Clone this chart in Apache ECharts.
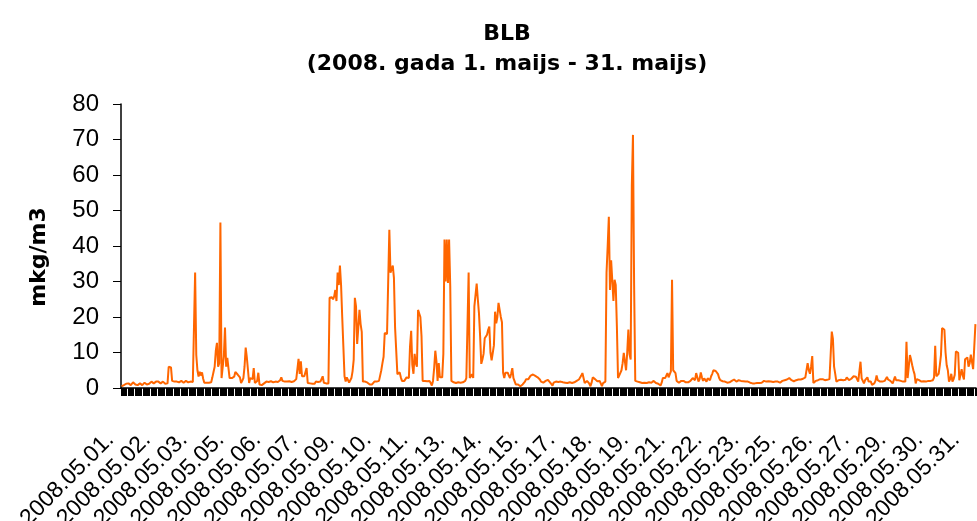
<!DOCTYPE html>
<html>
<head>
<meta charset="utf-8">
<script src="https://cdn.jsdelivr.net/npm/echarts@6/dist/echarts.min.js"></script>
<style>html,body{margin:0;padding:0;background:#fff}#c{width:977px;height:521px}</style>
</head>
<body>
<div id="c"></div>
<script>
const titleText = 'BLB';
const subtitleText = '(2008. gada 1. maijs - 31. maijs)';
const yName = 'mkg/m3';
const dayLabels = ['01','02','03','04','05','06','07','08','09','10','11','12','13','14','15','16','17','18','19','20','21','22','23','24','25','26','27','28','29','30','31'];

// hourly values per day (24 each)
const d01 = [0.5,0.6,0.8,1.0,1.2,1.5,1.3,1.0,0.8,1.2,1.6,1.4,1.0,0.7,0.8,1.1,1.3,1.0,0.8,1.2,1.5,1.3,1.0,0.9];
const d02 = [1.2,1.5,1.8,1.6,1.3,1.5,1.8,2.0,1.8,1.5,1.3,1.6,1.8,1.5,1.2,1.0,1.3,6.0,6.2,5.8,2.0,1.5,1.8,1.6];
const d03 = [1.8,1.5,1.6,1.8,2.0,1.7,1.5,1.8,2.0,1.8,1.6,1.5,1.8,1.6,1.7,1.8,32.5,9.3,5.0,3.2,4.6,3.5,4.4,2.6];
const d04 = [1.5,1.3,1.5,1.8,1.5,1.4,1.6,3.0,4.5,6.0,10.5,12.7,6.0,7.0,46.6,2.8,3.0,9.0,17.0,6.0,8.5,8.5,2.8,3.2];
const d05 = [2.8,3.0,3.2,4.5,5.0,3.8,4.0,3.0,1.4,2.0,2.8,6.0,11.4,8.6,8.8,1.4,2.8,2.8,2.5,5.6,1.4,1.5,2.0,4.3];
const d06 = [1.0,1.2,0.8,1.0,1.3,1.6,1.8,1.8,1.7,1.8,1.9,1.8,1.6,1.8,1.8,1.9,1.7,1.8,2.2,3.0,2.0,1.6,1.8,1.7];
const d07 = [1.8,2.0,1.9,1.8,1.7,1.8,1.9,2.2,2.5,2.0,8.2,4.0,7.5,3.3,3.0,3.3,3.5,5.6,1.4,1.5,1.3,1.4,1.2,0.7];
const d08 = [1.2,1.8,1.8,1.7,1.8,1.8,1.9,3.3,1.5,1.4,1.3,1.4,1.3,25.4,25.0,25.6,25.0,25.8,27.6,24.5,32.5,29.0,34.5,29.0];
const d09 = [20.0,11.7,3.3,1.8,3.0,2.5,1.5,2.0,2.8,4.7,8.0,25.4,23.0,12.4,17.0,22.0,18.0,15.8,1.8,2.0,1.8,2.0,1.5,1.0];
const d10 = [1.0,0.8,1.0,1.5,1.8,2.0,1.8,2.0,2.0,2.2,5.0,7.0,8.8,15.5,15.0,15.2,14.8,44.6,32.5,33.0,34.5,31.0,17.0,17.0];
const d11 = [3.9,4.0,4.4,3.0,2.0,2.2,2.0,2.5,3.0,2.6,2.8,11.7,16.1,6.5,4.0,9.6,7.0,6.0,22.0,21.0,20.0,14.6,2.0,2.1];
const d12 = [2.0,2.1,1.9,2.0,2.0,1.4,0.7,2.0,5.6,10.5,7.5,2.0,7.0,3.0,3.2,3.0,9.6,41.8,30.0,41.8,29.6,41.8,28.7,2.0];
const d13 = [1.5,1.6,1.5,1.4,1.5,1.6,1.5,1.5,1.9,1.6,1.5,2.0,2.8,2.8,32.5,2.8,2.5,3.9,2.8,23.0,23.5,29.4,25.0,21.0];
const d14 = [14.6,6.8,8.0,9.6,14.0,14.0,15.0,16.4,17.3,10.0,7.8,7.8,12.0,21.5,18.2,20.0,24.0,22.0,20.0,18.5,4.3,2.8,4.3,4.3];
const d15 = [4.3,3.5,2.8,4.0,5.6,2.8,2.7,1.0,1.0,1.0,0.8,0.5,0.6,1.0,1.3,1.8,2.5,2.8,2.5,3.0,3.5,4.0,3.8,3.6];
const d16 = [3.4,3.2,3.0,2.6,2.4,1.8,1.3,1.5,1.8,2.0,2.2,2.3,2.0,1.5,1.2,0.7,1.5,2.0,1.8,1.6,1.7,1.8,1.8,1.6];
const d17 = [1.6,1.5,1.5,1.4,1.4,1.5,1.6,1.5,1.4,1.5,1.6,1.8,2.0,2.2,2.4,2.8,3.5,4.2,2.8,1.4,1.6,2.0,1.8,1.2];
const d18 = [0.5,1.5,3.0,2.8,2.5,2.0,1.9,1.8,2.0,2.2,0.5,1.4,1.6,1.8,32.5,40.0,48.2,27.6,36.0,35.5,24.5,30.5,29.0,17.4];
const d19 = [2.8,3.5,3.2,5.0,7.0,9.9,9.5,5.0,10.0,16.5,9.5,8.0,56.9,71.3,29.0,2.0,1.5,1.8,1.5,1.6,1.8,1.4,1.6,1.5];
const d20 = [1.6,1.4,1.5,1.6,1.8,1.5,1.6,2.0,1.6,1.4,1.5,1.2,1.4,0.7,1.5,2.8,2.5,2.8,3.2,4.2,3.0,2.8,4.7,30.5];
const d21 = [5.0,4.6,4.2,2.0,1.6,1.5,1.8,2.0,1.8,2.0,2.0,1.6,1.3,1.6,1.8,2.0,2.2,2.8,2.5,2.2,4.2,3.0,1.8,2.5];
const d22 = [4.4,3.0,2.0,2.7,2.2,1.8,2.7,2.5,2.2,3.3,4.0,5.0,5.0,4.8,4.5,3.9,2.8,2.2,1.8,1.9,1.8,1.8,1.6,1.5];
const d23 = [1.4,1.6,1.8,2.0,1.8,2.4,2.0,1.8,2.0,2.2,2.4,2.0,1.8,1.9,1.8,1.8,1.7,1.8,1.6,1.5,1.4,1.3,1.2,1.3];
const d24 = [1.3,1.4,1.2,1.4,1.3,1.5,1.4,2.0,1.6,1.8,2.0,1.9,1.8,1.8,1.8,1.7,1.8,1.8,1.6,1.8,1.4,1.5,1.8,2.0];
const d25 = [2.0,2.2,2.4,2.4,2.6,2.8,2.8,2.2,1.8,1.9,2.0,2.2,2.2,2.4,2.3,2.4,2.5,2.6,2.8,3.0,3.5,7.0,5.0,4.0];
const d26 = [6.0,9.0,1.4,1.8,2.0,2.0,2.2,2.2,2.5,2.8,2.5,2.2,2.2,2.2,2.3,2.2,2.5,2.5,15.9,13.8,6.0,4.0,1.8,2.0];
const d27 = [2.2,2.2,2.3,2.2,2.2,2.2,2.3,3.0,2.5,2.2,2.0,2.6,2.8,3.3,3.0,3.2,2.7,1.8,1.3,7.4,2.7,2.2,1.3,2.2];
const d28 = [2.2,3.0,1.8,2.2,1.8,0.9,1.2,1.3,2.0,3.5,2.2,1.8,1.8,1.9,1.8,1.8,2.0,2.2,3.1,2.4,2.2,2.0,1.5,1.3];
const d29 = [1.8,3.2,2.2,2.2,2.2,2.2,2.0,1.8,1.8,1.9,1.8,13.0,2.8,6.0,9.3,8.0,6.4,5.0,3.9,1.3,2.5,2.8,2.2,1.8];
const d30 = [1.8,1.8,1.9,1.8,1.8,1.9,2.0,2.2,2.0,1.8,2.2,3.0,11.9,3.3,3.3,4.0,6.4,9.2,16.9,16.5,16.4,10.0,6.4,5.0];
const d31 = [1.8,2.5,4.0,1.8,2.5,3.7,10.3,9.9,9.9,2.2,1.8,5.3,3.5,2.4,8.1,8.0,8.6,6.0,7.0,9.4,9.9,5.3,5.0,18.0];

const days = [d01,d02,d03,d04,d05,d06,d07,d08,d09,d10,d11,d12,d13,d14,d15,d16,d17,d18,d19,d20,d21,d22,d23,d24,d25,d26,d27,d28,d29,d30,d31];
const values = [].concat(...days);
const categories = [];
dayLabels.forEach(function (d) { for (let h = 0; h < 24; h++) categories.push('2008.05.' + d + '.'); });

const FONT = '"Liberation Sans", Arial, sans-serif';
const BOLD_FONT = '"DejaVu Sans", "Liberation Sans", Arial, sans-serif';
const chart = echarts.init(document.getElementById('c'), null, {renderer: 'canvas'});
chart.setOption({
  animation: false,
  backgroundColor: '#ffffff',
  title: {
    text: titleText,
    subtext: subtitleText,
    left: 502,
    textAlign: 'center',
    top: 18,
    itemGap: 8,
    textStyle: {fontFamily: BOLD_FONT, fontSize: 22, fontWeight: 'bold', color: '#000'},
    subtextStyle: {fontFamily: BOLD_FONT, fontSize: 22, fontWeight: 'bold', color: '#000'}
  },
  graphic: [{
    type: 'text',
    x: 39, y: 257,
    rotation: Math.PI / 2,
    style: {text: yName, fontFamily: BOLD_FONT, fontSize: 22, fontWeight: 'bold', fill: '#000', align: 'center', verticalAlign: 'middle'}
  }],
  grid: {left: 121, right: 1, top: 104, bottom: 133, containLabel: false, outerBoundsMode: 'none'},
  xAxis: {
    type: 'category',
    data: categories,
    boundaryGap: true,
    axisLine: {lineStyle: {color: '#000', width: 1.5}},
    axisTick: {show: true, interval: 0, length: 8, lineStyle: {color: '#000', width: 1}},
    axisLabel: {interval: 31, rotate: 45, margin: 37, fontSize: 23, color: '#000', fontFamily: FONT, padding: [0, 16, 0, 0]}
  },
  yAxis: {
    type: 'value',
    min: 0, max: 80, interval: 10,
    axisLine: {show: true, lineStyle: {color: '#000', width: 1.5}},
    axisTick: {show: true, length: 8, lineStyle: {color: '#000', width: 1}},
    axisLabel: {fontSize: 24, color: '#000', margin: 22, fontFamily: FONT},
    splitLine: {show: false}
  },
  series: [{
    type: 'line',
    data: values,
    symbol: 'none',
    lineStyle: {color: '#FF6600', width: 2},
    itemStyle: {color: '#FF6600'}
  }]
});
</script>
</body>
</html>
